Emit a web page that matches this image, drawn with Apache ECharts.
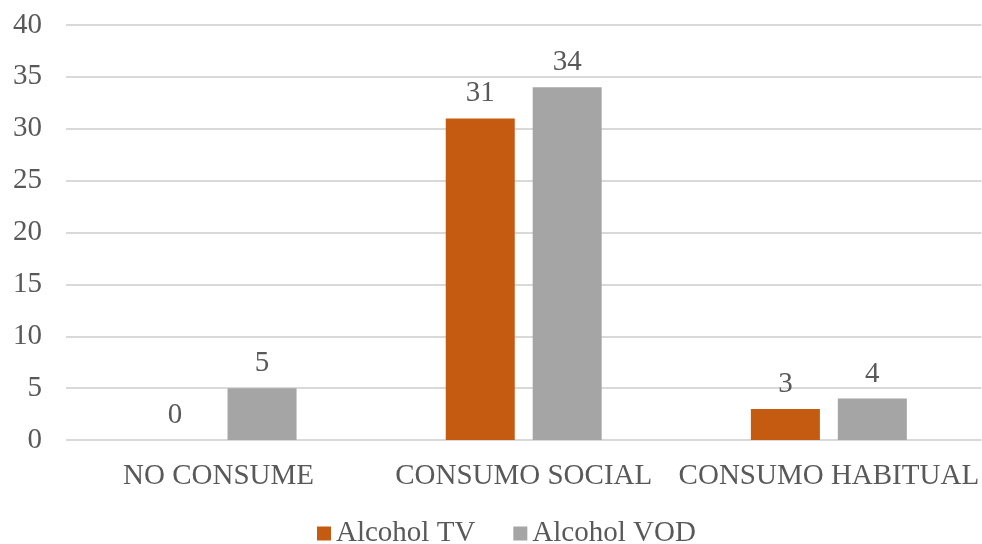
<!DOCTYPE html>
<html>
<head>
<meta charset="utf-8">
<script src="https://cdn.jsdelivr.net/npm/echarts@6/dist/echarts.min.js"></script>
<style>html,body{margin:0;padding:0;background:#fff}#c{width:982px;height:544px}</style>
</head>
<body>
<div id="c"></div>
<script>
const categories = ['NO CONSUME', 'CONSUMO SOCIAL', 'CONSUMO HABITUAL'];
const seriesNames = ['Alcohol TV', 'Alcohol VOD'];
const alcoholTV = [0, 31, 3];
const alcoholVOD = [5, 34, 4];
const colors = ['#C55A11', '#A5A5A5'];
const font = '"Liberation Serif", "Times New Roman", serif';
const textColor = '#595959';
const fs = 29;

const chart = echarts.init(document.getElementById('c'), null, {renderer: 'canvas'});
const labelOpt = {show: true, position: 'top', distance: 10, color: textColor, fontFamily: font, fontSize: fs};
chart.setOption({
  animation: false,
  backgroundColor: '#ffffff',
  grid: {left: 66, right: 0, top: 25, bottom: 104, containLabel: false},
  legend: {
    data: seriesNames,
    left: 312,
    top: 514,
    itemWidth: 14, itemHeight: 14, itemGap: 38,
    icon: 'rect',
    textStyle: {color: textColor, fontFamily: font, fontSize: fs, padding: [0, 0, 0, 0]}
  },
  xAxis: {
    type: 'category',
    data: categories,
    axisLine: {show: false},
    axisTick: {show: false},
    axisLabel: {color: textColor, fontFamily: font, fontSize: fs, margin: 22, interval: 0}
  },
  yAxis: {
    type: 'value',
    min: 0, max: 40, interval: 5,
    axisLine: {show: false},
    axisTick: {show: false},
    axisLabel: {color: textColor, fontFamily: font, fontSize: fs, margin: 24},
    splitLine: {lineStyle: {color: '#D9D9D9', width: 2}}
  },
  series: [
    {name: seriesNames[0], type: 'bar', data: alcoholTV, itemStyle: {color: colors[0]}, barWidth: 69, barGap: '26%', label: labelOpt},
    {name: seriesNames[1], type: 'bar', data: alcoholVOD, itemStyle: {color: colors[1]}, barWidth: 69, barGap: '26%', label: labelOpt}
  ]
});
</script>
</body>
</html>
